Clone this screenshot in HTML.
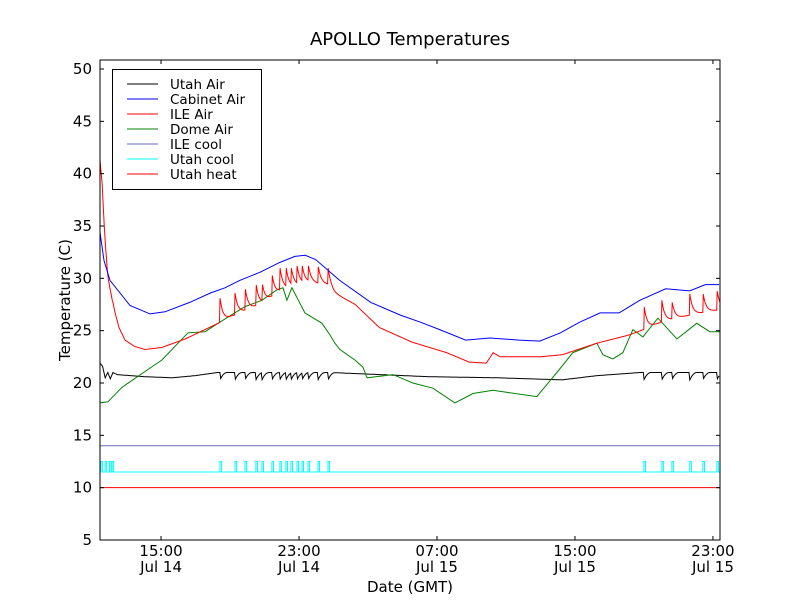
<!DOCTYPE html>
<html><head><meta charset="utf-8"><style>
body{margin:0;background:#fff;}
svg{display:block;font-family:"DejaVu Sans","Liberation Sans",sans-serif;}
</style></head><body>
<svg id="chart" width="800" height="600" viewBox="0 0 800 600">
<rect x="0" y="0" width="800" height="600" fill="#fff"/>
<g id="series"></g>
<rect x="100" y="60" width="620" height="480" fill="none" stroke="#000" stroke-width="1"/>
<g id="axes"></g>
<text x="410" y="45" text-anchor="middle" font-size="18">APOLLO Temperatures</text>
<text x="410" y="592" text-anchor="middle" font-size="15">Date (GMT)</text>
<text x="0" y="0" transform="translate(70,300) rotate(-90)" text-anchor="middle" font-size="15">Temperature (C)</text>
<g id="legend"></g>
</svg>
<script>
// ---- data (hours since plot start ~11:28 Jul 14) ----
const yTicks = [5,10,15,20,25,30,35,40,45,50];
const xTickHours = [3.54, 11.54, 19.54, 27.54, 35.54];
const xTickTimes = ["15:00","23:00","07:00","15:00","23:00"];
const xTickDates = ["Jul 14","Jul 14","Jul 15","Jul 15","Jul 15"];

const cabinetT = [0,0.23,0.58,1.74,2.9,3.77,5.2,6.4,7.25,8.1,9.3,10.4,11.3,11.9,12.5,13.9,15.7,17.4,18.6,19.7,21.2,22.6,24.3,25.5,26.7,27.8,29.0,30.1,31.3,32.8,34.2,35.1,35.9];
const cabinetV = [34.4,31.7,29.8,27.4,26.6,26.8,27.7,28.6,29.1,29.8,30.6,31.5,32.1,32.2,31.8,29.8,27.7,26.5,25.8,25.1,24.1,24.3,24.1,24.0,24.8,25.8,26.7,26.7,27.9,29.0,28.8,29.4,29.4];

const ileT = [0,0.12,0.29,0.46,0.7,0.87,1.1,1.45,2.0,2.61,3.59,4.93,6.84,7.65,9.28,10.55,12.06,13.2,13.6,14.8,16.2,18.1,20.1,21.4,22.4,22.8,23.2,25.5,26.8,28.8,30.7,31.5,32.5,34.2,35.9];
const ileV = [41.3,39.1,33.7,30.1,28.0,26.7,25.3,24.1,23.5,23.2,23.4,24.2,25.7,26.4,27.5,28.9,29.6,29.4,28.6,27.5,25.3,23.9,22.9,22.0,21.9,22.9,22.5,22.5,22.7,23.8,24.6,25.1,25.8,26.5,27.0];
const spikeT = [0.58,0.75,6.96,7.83,8.41,9.04,9.39,9.97,10.43,10.78,11.07,11.42,11.71,12.06,12.64,13.22,31.54,32.58,33.16,34.2,34.96,35.77];
const spikeV = [28.9,27.7,28.1,28.6,29.2,29.6,29.7,30.5,31.1,31.2,31.3,31.3,31.4,31.5,31.3,31.1,27.5,27.9,27.9,28.5,28.7,29.0];

const domeT = [0,0.46,1.28,2.61,3.59,4.52,5.1,6.09,6.84,7.42,8.41,9.39,10.26,10.61,10.84,11.13,11.88,12.87,13.33,13.62,13.91,14.78,15.25,15.48,16.99,18.14,19.3,20.58,21.62,22.78,25.33,26.49,27.42,28.81,29.16,29.74,30.32,30.9,31.48,32.35,33.45,34.6,35.36,35.95];
const domeV = [18.1,18.2,19.6,21.1,22.2,23.8,24.8,24.9,25.7,26.3,27.3,27.9,28.9,29.1,27.9,29.1,26.7,25.7,24.6,23.8,23.2,22.2,21.5,20.5,20.8,20.0,19.5,18.1,19.0,19.3,18.7,21.0,22.9,23.8,22.7,22.3,22.9,25.1,24.4,26.2,24.2,25.7,24.9,24.9];

const utahAirT = [0,0.15,0.3,0.45,0.6,0.75,1.0,2.6,4.2,5.5,6.8,13.4,19.1,23.0,26.8,28.8,31.3,35.95];
const utahAirV = [21.9,21.6,20.5,21.0,20.4,21.0,20.8,20.6,20.5,20.7,21.0,21.0,20.6,20.5,20.3,20.7,21.0,21.0];
const dipDepth = [0.7];

const ileCool = [14];
const utahCoolBase = [11.5];
const utahCoolOn = [12.5];
const pulseT = [0.05,0.3,0.55,0.7,6.96,7.83,8.41,9.04,9.39,9.97,10.43,10.78,11.07,11.42,11.71,12.06,12.64,13.22,31.54,32.58,33.16,34.2,34.96,35.77];
const utahHeat = [10];

// ---- scales ----
const X0=100, X1=720, Y0=540, Y1=60;
const xMax = 35.95, yMin = 5, yMax = 50.86;
const sx = h => X0 + h/xMax*(X1-X0);
const sy = v => Y0 - (v-yMin)/(yMax-yMin)*(Y0-Y1);
const NS="http://www.w3.org/2000/svg";
const seriesG=document.getElementById('series');
function mk(tag,attrs,parent){const e=document.createElementNS(NS,tag);for(const k in attrs)e.setAttribute(k,attrs[k]);parent.appendChild(e);return e;}
function interp(T,V,h){for(let i=1;i<T.length;i++){if(h<=T[i]){const f=(h-T[i-1])/(T[i]-T[i-1]);return V[i-1]+f*(V[i]-V[i-1]);}}return V[V.length-1];}
function pathFrom(pts){return pts.map((p,i)=>(i?'L':'M')+p[0].toFixed(1)+','+p[1].toFixed(1)).join(' ');}

const defs=mk('defs',{},seriesG);
const cp=mk('clipPath',{id:'clip'},defs);
mk('rect',{x:X0,y:Y1,width:X1-X0,height:Y0-Y1},cp);
const g=mk('g',{'clip-path':'url(#clip)'},seriesG);

let l=mk('line',{x1:X0,x2:X1,y1:sy(utahHeat[0]),y2:sy(utahHeat[0]),stroke:'#ff0000','stroke-width':1},g);



{let pts=[[sx(0),sy(utahCoolBase[0])]];const w=0.09;
 pulseT.forEach(t=>{pts.push([sx(t),sy(utahCoolBase[0])],[sx(t),sy(utahCoolOn[0])],[sx(t+w),sy(utahCoolOn[0])],[sx(t+w),sy(utahCoolBase[0])]);});
 pts.push([sx(xMax),sy(utahCoolBase[0])]);
 const p=mk('path',{d:pathFrom(pts),fill:'none',stroke:'#00ffff','stroke-width':1},g);
 
 }

l=mk('line',{x1:X0,x2:X1,y1:sy(ileCool[0]),y2:sy(ileCool[0]),stroke:'#6a6ab8','stroke-width':1},g);



{let pts=[];const samples=[];
 for(let h=0;h<=xMax;h+=0.05)samples.push(h);
 samples.forEach(h=>{let v=interp(utahAirT,utahAirV,h);
   spikeT.forEach(t=>{if(t>5&&h>=t&&h<t+0.4){v-=dipDepth[0]*(1-(h-t)/0.4)**2;}});
   pts.push([sx(h),sy(v)]);});
 const p=mk('path',{d:pathFrom(pts),fill:'none',stroke:'#000','stroke-width':1},g);
 
 }

{const pts=domeT.map((t,i)=>[sx(t),sy(domeV[i])]);
 const p=mk('path',{d:pathFrom(pts),fill:'none',stroke:'#008000','stroke-width':1},g);
 
 }

{let pts=[];const samples=[];
 for(let h=0;h<=xMax;h+=0.03)samples.push(h);
 samples.forEach(h=>{let base=interp(ileT,ileV,h);let v=base;
   spikeT.forEach((t,i)=>{if(h>=t&&h<t+0.8){const b=interp(ileT,ileV,t);const a=(spikeV[i]-b)*Math.exp(-(h-t)/0.17);v=Math.max(v,base+a);}});
   pts.push([sx(h),sy(v)]);});
 const p=mk('path',{d:pathFrom(pts),fill:'none',stroke:'#ff0000','stroke-width':1},g);
 
 }

{const pts=cabinetT.map((t,i)=>[sx(t),sy(cabinetV[i])]);
 const p=mk('path',{d:pathFrom(pts),fill:'none',stroke:'#0000ff','stroke-width':1},g);
 
 }

const ax=document.getElementById('axes');
yTicks.forEach(v=>{const y=sy(v);
 mk('line',{x1:X0,x2:X0+4,y1:y,y2:y,stroke:'#000'},ax);
 mk('line',{x1:X1,x2:X1-4,y1:y,y2:y,stroke:'#000'},ax);
 const t=mk('text',{x:X0-8,y:y+5,'text-anchor':'end','font-size':15},ax);t.textContent=v;
 
 });
xTickHours.forEach((h,i)=>{const x=sx(h);
 mk('line',{x1:x,x2:x,y1:Y0,y2:Y0-4,stroke:'#000'},ax);
 mk('line',{x1:x,x2:x,y1:Y1,y2:Y1+4,stroke:'#000'},ax);
 const t=mk('text',{x:x,y:556,'text-anchor':'middle','font-size':15},ax);t.textContent=xTickTimes[i];
 
 
 const d=mk('text',{x:x,y:572,'text-anchor':'middle','font-size':15},ax);d.textContent=xTickDates[i];
 
 });

const lg=document.getElementById('legend');
mk('rect',{x:112.5,y:69.5,width:149,height:120,fill:'#fff',stroke:'#000'},lg);
const names=["Utah Air","Cabinet Air","ILE Air","Dome Air","ILE cool","Utah cool","Utah heat"];
const cols=["#000","#0000ff","#ff0000","#008000","#6a6ab8","#00ffff","#ff0000"];
names.forEach((n,i)=>{const y=84+i*15;
 const e=mk('g',{},lg);
 
 
 mk('line',{x1:127,x2:158,y1:y,y2:y,stroke:cols[i]},e);
 const t=mk('text',{x:170,y:y+5,'font-size':13.5},e);t.textContent=n;});
</script>
</body></html>
